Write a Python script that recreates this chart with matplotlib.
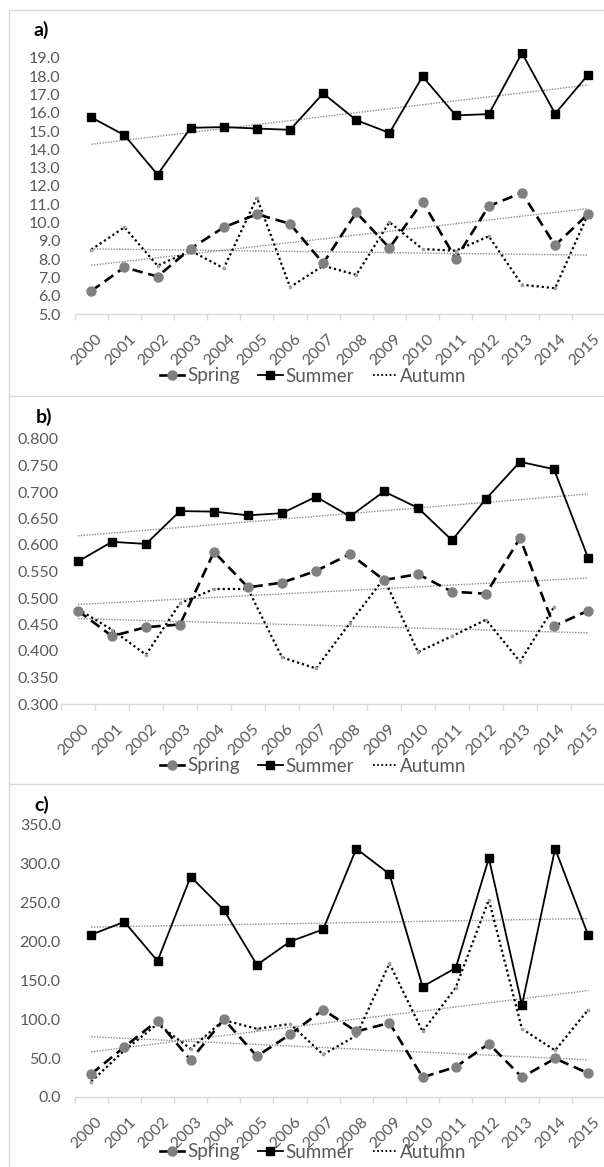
import numpy as np
import matplotlib
matplotlib.use("Agg")
import matplotlib.pyplot as plt
from matplotlib.lines import Line2D
from matplotlib.transforms import ScaledTranslation

plt.rcParams['font.family'] = ['Lato', 'DejaVu Sans']

years = [str(y) for y in range(2000, 2016)]

# Panel a
a_spring = [6.26, 7.55, 7.05, 8.57, 9.74, 10.46, 9.93, 7.77, 10.55, 8.61, 11.15, 8.02, 10.90, 11.63, 8.75, 10.48]
a_summer = [15.75, 14.78, 12.62, 15.18, 15.22, 15.14, 15.07, 17.06, 15.60, 14.90, 17.99, 15.86, 15.93, 19.27, 15.95, 18.09]
a_autumn = [8.52, 9.74, 7.64, 8.46, 7.50, 11.36, 6.47, 7.64, 7.14, 10.02, 8.55, 8.46, 9.25, 6.60, 6.41, 10.48]
a_ticks = [5.0 + i for i in range(15)]

# Panel b (autumn 2015 has no value)
b_spring = [0.476, 0.428, 0.445, 0.450, 0.587, 0.520, 0.529, 0.551, 0.583, 0.534, 0.545, 0.512, 0.508, 0.613, 0.447, 0.476]
b_summer = [0.569, 0.606, 0.602, 0.664, 0.663, 0.656, 0.660, 0.691, 0.654, 0.701, 0.670, 0.609, 0.687, 0.757, 0.743, 0.576]
b_autumn = [0.479, 0.440, 0.393, 0.490, 0.517, 0.517, 0.388, 0.367, 0.453, 0.537, 0.398, 0.428, 0.459, 0.380, 0.483, np.nan]
b_ticks = [0.30 + 0.05 * i for i in range(11)]

# Panel c
c_spring = [29.7, 64.4, 98.3, 47.5, 100.0, 52.5, 80.5, 112.3, 84.3, 95.3, 25.4, 38.6, 68.6, 25.4, 49.6, 30.5]
c_summer = [208.9, 225.4, 175.0, 283.5, 240.7, 170.0, 200.0, 215.7, 319.5, 286.9, 142.0, 166.0, 307.2, 118.2, 319.5, 208.0]
c_autumn = [19.9, 60.0, 94.0, 62.0, 99.0, 87.7, 94.0, 54.7, 79.0, 172.0, 84.3, 140.7, 253.8, 87.7, 60.0, 112.3]
c_ticks = [0.0 + 50 * i for i in range(8)]

panels = [
    dict(label='a)', spring=a_spring, summer=a_summer, autumn=a_autumn, ticks=a_ticks,
         fmt='{:.1f}', ylim=(5.0, 19.5), box=(74.7, 604.8, 314, 48.8), title_xy=(34, 30),
         legend_y=376, ypad=10),
    dict(label='b)', spring=b_spring, summer=b_summer, autumn=b_autumn, ticks=b_ticks,
         fmt='{:.3f}', ylim=(0.3, 0.8), box=(61.0, 605.0, 704, 439), title_xy=(36, 417),
         legend_y=766, ypad=1.5),
    dict(label='c)', spring=c_spring, summer=c_summer, autumn=c_autumn, ticks=c_ticks,
         fmt='{:.1f}', ylim=(0.0, 350.0), box=(74.7, 604.8, 1097, 825), title_xy=(34, 805),
         legend_y=1152, ypad=10),
]

W, H = 604, 1167
fig = plt.figure(figsize=(W / 100, H / 100), dpi=100)

tick_color = '#595959'
border_color = '#D9D9D9'
trend_color = '#8c8c8c'

# panel borders
for yb in [10, 396, 784]:
    fig.add_artist(Line2D([8.5 / W, 1.0], [1 - yb / H, 1 - yb / H], color=border_color, lw=1.0))
fig.add_artist(Line2D([8.5 / W, 8.5 / W], [1 - 10 / H, 0.0], color=border_color, lw=1.0))

x = np.arange(len(years))
shift = ScaledTranslation(-3 / 72, 0, fig.dpi_scale_trans)
for p in panels:
    l, r, b, t = p['box']
    ax = fig.add_axes([l / W, 1 - b / H, (r - l) / W, (b - t) / H])
    ax.set_xlim(-0.5, len(years) - 0.5)
    ax.set_ylim(*p['ylim'])
    for s in ['top', 'right', 'left']:
        ax.spines[s].set_visible(False)
    ax.spines['bottom'].set_color(border_color)
    ax.spines['bottom'].set_linewidth(1.0)

    # linear trend lines (fitted on available values, drawn over all categories)
    for series in [p['spring'], p['summer'], p['autumn']]:
        arr = np.asarray(series, dtype=float)
        m = ~np.isnan(arr)
        k, c0 = np.polyfit(x[m], arr[m], 1)
        ax.plot(x, k * x + c0, color=trend_color, lw=1.0, linestyle=(0, (1, 1)), zorder=2)

    ax.plot(x, p['autumn'], color='black', lw=1.6, linestyle=(0, (1, 1.3)),
            marker='s', ms=1.5, mfc='#a0a0a0', mec='#a0a0a0', zorder=3, label='Autumn')
    ax.plot(x, p['spring'], color='black', lw=1.9, linestyle=(0, (4.0, 2.2)),
            marker='o', ms=6.5, mfc='#808080', mec='#808080', zorder=4, label='Spring')
    ax.plot(x, p['summer'], color='black', lw=1.3, linestyle='-',
            marker='s', ms=5.5, mfc='black', mec='black', zorder=5, label='Summer')

    ax.set_yticks(p['ticks'])
    ax.set_yticklabels([p['fmt'].format(v) for v in p['ticks']])
    ax.tick_params(axis='y', length=0, pad=p['ypad'], labelsize=11.5, labelcolor=tick_color)
    ax.set_xticks(x)
    ax.set_xticklabels(years, rotation=45, ha='center')
    ax.tick_params(axis='x', length=0, pad=13, labelsize=11.5, labelcolor=tick_color)
    for lab in ax.get_xticklabels():
        lab.set_transform(lab.get_transform() + shift)
    ax.set_xticks(np.arange(-0.5, len(years)), minor=True)
    ax.tick_params(axis='x', which='minor', length=4, color=border_color, width=1.0)

    fig.text(p['title_xy'][0] / W, 1 - p['title_xy'][1] / H, p['label'], fontsize=14,
             fontweight='bold', ha='left', va='center', color='black')

    handles = [
        Line2D([], [], color='black', lw=1.9, marker='o', ms=6.5, mfc='#808080', mec='#808080'),
        Line2D([], [], color='black', lw=1.3, marker='s', ms=5.5, mfc='black', mec='black'),
        Line2D([], [], color='black', lw=1.3, linestyle=(0, (1, 1.3))),
    ]
    fig.legend(handles, ['Spring', 'Summer', 'Autumn'], loc='center',
               bbox_to_anchor=(313 / W, 1 - p['legend_y'] / H), ncol=3, frameon=False,
               fontsize=13.5, handlelength=1.3, handletextpad=0.15, columnspacing=1.0,
               labelcolor=tick_color, borderpad=0.0)

fig.savefig('out.png', dpi=100)
